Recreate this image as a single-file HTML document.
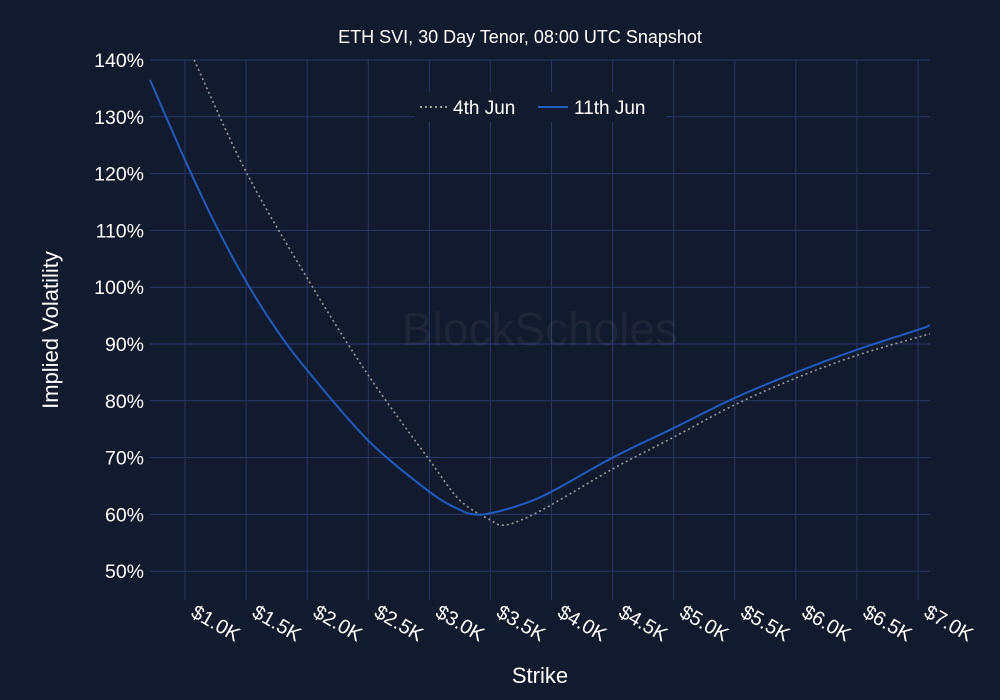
<!DOCTYPE html>
<html><head><meta charset="utf-8"><style>
body{margin:0;background:#121a2d;}
svg{display:block;font-family:"Liberation Sans",sans-serif;}
</style></head><body>
<svg id="chart" width="1000" height="700" viewBox="0 0 1000 700">
<rect width="1000" height="700" fill="#121a2d"/>
<g id="grid"></g>
<text x="540" y="345" text-anchor="middle" font-size="46" fill="#ffffff" fill-opacity="0.05">BlockScholes</text>
<g id="series"></g>
<g id="ticks"></g>
<text x="520" y="43" text-anchor="middle" font-size="18" fill="#ffffff">ETH SVI, 30 Day Tenor, 08:00 UTC Snapshot</text>
<text x="540" y="683" text-anchor="middle" font-size="22" fill="#ffffff">Strike</text>
<text transform="translate(58,330) rotate(-90)" text-anchor="middle" font-size="22" fill="#ffffff">Implied Volatility</text>
<g>
<rect x="415" y="92" width="252" height="30" fill="#121a2d"/>
<g>
<line x1="420" y1="107" x2="448" y2="107" stroke="#9a9a9a" stroke-width="2" stroke-dasharray="2,3"/>
<text x="453" y="114" font-size="19" fill="#ffffff">4th Jun</text></g>
<g>
<line x1="538" y1="107" x2="568" y2="107" stroke="#1f5bc0" stroke-width="2"/>
<text x="574" y="114" font-size="19" fill="#ffffff">11th Jun</text></g>
</g>
</svg>
<script>
const xTicks=[1000,1500,2000,2500,3000,3500,4000,4500,5000,5500,6000,6500,7000];
const xTickLabels=["$1.0K","$1.5K","$2.0K","$2.5K","$3.0K","$3.5K","$4.0K","$4.5K","$5.0K","$5.5K","$6.0K","$6.5K","$7.0K"];
const yTicks=[50,60,70,80,90,100,110,120,130,140];
const strikes11=[714,1000,1250,1500,1750,2000,2500,3000,3250,3375,3500,3750,4000,4500,5000,5500,6000,6500,7000,7097];
const iv11=[136.5,122.4,111,101,92.5,85.4,73,64,60.8,60,60.2,61.7,64,70,75.2,80.5,85,89,92.5,93.3];
const strikes4=[1075,1500,2000,2500,3000,3250,3500,3600,3750,4000,4500,5000,5500,6000,6500,7000,7097];
const iv4=[140,120.3,101.6,84.5,69.6,62.5,59,58.1,59,61.7,68,73.6,79.3,84,88,91.2,91.8];
const NS="http://www.w3.org/2000/svg";
const X0=150,X1=930,Y0=60,Y1=600;
function xs(k){return 185+(k-1000)*0.12217;}
function ys(v){return 60+(140-v)*5.68;}
function mk(t,a,p){const e=document.createElementNS(NS,t);for(const k in a)e.setAttribute(k,a[k]);p.appendChild(e);return e;}
const grid=document.getElementById('grid'),ticks=document.getElementById('ticks'),ser=document.getElementById('series');
yTicks.forEach(v=>{
 const l=mk('line',{x1:X0,x2:X1,y1:ys(v),y2:ys(v),stroke:'#28376a','stroke-width':1},grid);
 
 
 const t=mk('text',{x:144,y:ys(v)+7,'text-anchor':'end','font-size':19.5,fill:'#fff'},ticks);
 t.textContent=v+'%';
 
 
});
xTicks.forEach((k,i)=>{
 const l=mk('line',{x1:xs(k),x2:xs(k),y1:Y0,y2:Y1,stroke:'#28376a','stroke-width':1},grid);
 
 
 const ax=xs(k)+50,ay=642;
 const t=mk('text',{x:ax,y:ay,'text-anchor':'end','font-size':20,fill:'#fff',transform:`rotate(30 ${ax} ${ay})`},ticks);
 t.textContent=xTickLabels[i];
 
 
});
function path(ks,vs){
 const p=ks.map((k,i)=>[xs(k),ys(vs[i])]);
 let d=`M${p[0][0]},${p[0][1]}`;
 for(let i=0;i<p.length-1;i++){
  const a=p[i-1]||p[i],b=p[i],c=p[i+1],e=p[i+2]||c;
  d+=` C${b[0]+(c[0]-a[0])/6},${b[1]+(c[1]-a[1])/6} ${c[0]-(e[0]-b[0])/6},${c[1]-(e[1]-b[1])/6} ${c[0]},${c[1]}`;
 }
 return d;
}
const s4=mk('path',{d:path(strikes4,iv4),fill:'none',stroke:'#9a9a9a','stroke-width':1.6,'stroke-dasharray':'2,3'},ser);


const s11=mk('path',{d:path(strikes11,iv11),fill:'none',stroke:'#1f5bc0','stroke-width':2},ser);


</script>
</body></html>
